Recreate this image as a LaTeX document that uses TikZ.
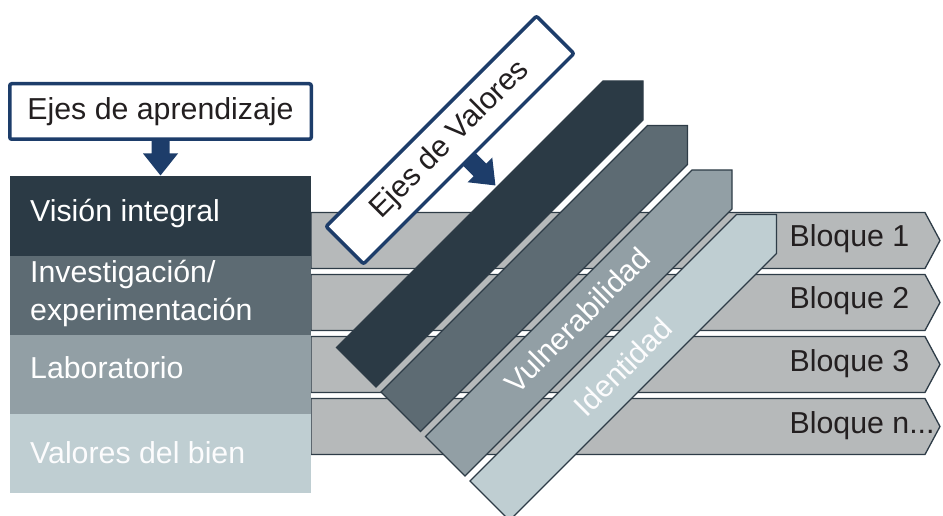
\documentclass[tikz,border=0pt]{standalone}
\usepackage{fontspec}
\setmainfont{Liberation Sans}
\usetikzlibrary{calc}
\definecolor{cdark}{HTML}{2B3A45}
\definecolor{cmid}{HTML}{5D6B73}
\definecolor{clmid}{HTML}{929FA5}
\definecolor{clight}{HTML}{BFCED2}
\definecolor{cgray}{HTML}{B6B9BA}
\definecolor{cnavy}{HTML}{1D3D6A}
\definecolor{coutline}{HTML}{2E3C47}
\definecolor{ctext}{HTML}{231F20}
\newcommand\diagfont{\fontsize{30.3}{36}\selectfont}
\tikzset{
  labelbox/.style={draw=cnavy, line width=3.5pt, rounded corners=2pt, fill=white,
    inner sep=0pt, font=\diagfont, text=ctext},
  rowblock/.style={anchor=north west, minimum width=301pt, minimum height=80.5pt,
    inner sep=0pt, draw=none},
  rowtext/.style={anchor=base west, inner sep=0pt, text=white, font=\diagfont, align=left},
  bloquearrow/.style={fill=cgray, draw=coutline, line width=1.3pt},
  bloquetext/.style={anchor=base west, inner sep=0pt, text=ctext, font=\diagfont},
  diagbar/.style={draw=coutline, line width=1.2pt},
  bartext/.style={rotate=45, inner sep=0pt, text=white, font=\diagfont},
  navyarrow/.style={fill=cnavy}
}
\begin{document}
\begin{tikzpicture}[x=1pt, y=-1pt]
\path[use as bounding box] (0,0) rectangle (943,516);
\clip (0,0) rectangle (943,516);

% Bloque arrows
\foreach \t/\n in {212.5/1, 274.5/2, 336.5/3, 398.5/4} {
  \draw[bloquearrow] (311,\t) -- (925,\t) -- (940,\t+28) -- (925,\t+56) -- (311,\t+56) -- cycle;
}
\node[bloquetext] (b1) at (789.5,246) {Bloque 1};
\node[bloquetext] (b2) at (789.5,308.5) {Bloque 2};
\node[bloquetext] (b3) at (789.5,371) {Bloque 3};
\node[bloquetext] (bn) at (789.5,433) {Bloque n...};

% Left column
\node[rowblock, fill=cdark] (r1) at (10,176) {};
\node[rowblock, fill=cmid] (r2) at (10,255.5) {};
\node[rowblock, fill=clmid] (r3) at (10,334.5) {};
\node[rowblock, fill=clight, minimum height=79.25pt] (r4) at (10,413.75) {};
\node[rowtext] (t1) at (30,222) {Visión integral};
\node[rowtext] (t2a) at (30,282) {Investigación/};
\node[rowtext] (t2b) at (30,320) {experimentación};
\node[rowtext] (t3) at (30,378) {Laboratorio};
\node[rowtext, text=white!95!clight] (t4) at (30,463) {Valores del bien};

% Diagonal bars
\draw[diagbar, fill=cdark] (336.5,347.5) -- (603,81) -- (643,81) -- (643,120) -- (376,387) -- cycle;
\draw[diagbar, fill=cmid] (381,392) -- (647.5,125.5) -- (687.5,125.5) -- (687.5,164.5) -- (420.5,431.5) -- cycle;
\draw[diagbar, fill=clmid] (425.5,436.5) -- (692,170) -- (732,170) -- (732,209) -- (465,476) -- cycle;
\draw[diagbar, fill=clight] (470,481) -- (736.5,214.5) -- (776.5,214.5) -- (776.5,253.5) -- (509.5,520.5) -- cycle;
\node[bartext] (vul) at (577,320) {Vulnerabilidad};
\node[bartext, text=white!95!clight] (ide) at (623,367) {Identidad};

% Ejes de aprendizaje
\node[labelbox, minimum width=301.5pt, minimum height=55.5pt] (aprend) at (160.5,111.5) {Ejes de aprendizaje};
\fill[navyarrow] (aprend.south) ++(-9,-1) -- ++(0,13.5) -- ++(-8.5,0) -- ++(17.5,22) -- ++(17.5,-22) -- ++(-8.5,0) -- ++(0,-13.5) -- cycle;

% Ejes de Valores (rotated)
\begin{scope}[rotate around={45:(450,140)}, transform shape]
\node[labelbox, minimum width=297.5pt, minimum height=53pt] (valores) at (450,140) {Ejes de Valores};
\fill[navyarrow] (valores.south) ++(-9,-1) -- ++(0,15) -- ++(-8.5,0) -- ++(17.5,22) -- ++(17.5,-22) -- ++(-8.5,0) -- ++(0,-15) -- cycle;
\end{scope}
\end{tikzpicture}
\end{document}
